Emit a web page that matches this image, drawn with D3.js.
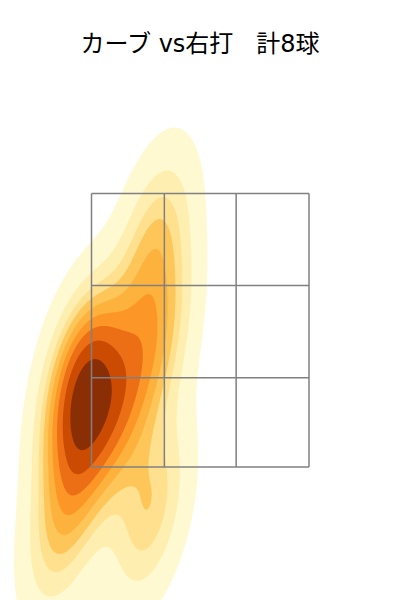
<!DOCTYPE html>
<html><head><meta charset="utf-8">
<script src="https://cdnjs.cloudflare.com/ajax/libs/d3/7.8.5/d3.min.js"></script>
<style>html,body{margin:0;padding:0;background:#fff}svg{display:block}</style>
</head><body><svg id="c" width="400" height="600"></svg>
<script>
const titleText = "カーブ vs右打   計8球";
const pitchX = [0.862,0.890,0.379,-0.186,-0.117,-0.007,-0.393,0.807];
const pitchZ = [2.468,1.382,0.570,0.910,0.976,0.526,-0.625,-0.483];
const gridX = [0,1.005,1.995,3];
const gridZ = [0,0.98,1.99,3];
const bandColors = ["#fff9d2","#feefb0","#fee08f","#fec559","#feb23e","#fc9727","#ec6f15","#cb4b02","#8a2f05"];
const levelCount = 10, lowestMass = 0.05;

const x = d3.scaleLinear().domain([0,3]).range([91.5,309]);
const y = d3.scaleLinear().domain([0,3]).range([467,193.5]);
const svg = d3.select("#c");

const n = pitchX.length, f2 = Math.pow(n,-1/3);
const mx = d3.mean(pitchX), mz = d3.mean(pitchZ);
let sxx=0,szz=0,sxz=0;
for(let i=0;i<n;i++){const a=pitchX[i]-mx,b=pitchZ[i]-mz;sxx+=a*a;szz+=b*b;sxz+=a*b;}
sxx=sxx/(n-1)*f2;szz=szz/(n-1)*f2;sxz=sxz/(n-1)*f2;
const det=sxx*szz-sxz*sxz;
const dens=(u,v)=>{let s=0;for(let i=0;i<n;i++){const a=u-pitchX[i],b=v-pitchZ[i];
  s+=Math.exp(-0.5*(szz*a*a-2*sxz*a*b+sxx*b*b)/det);}return s;};

const W=400,H=500,x0=-3,x1=5,z0=-5,z1=6;
const gx=i=>x0+(x1-x0)*i/(W-1), gz=j=>z0+(z1-z0)*j/(H-1);
const vals=new Float64Array(W*H);
for(let j=0;j<H;j++)for(let i=0;i<W;i++)vals[j*W+i]=dens(gx(i),gz(j));
const sorted=Array.from(vals).sort(d3.ascending);
const total=d3.sum(sorted);
const levels=[];let cum=0,k=0;
for(let l=0;l<levelCount-1;l++){
  const target=(lowestMass+(1-lowestMass)*l/(levelCount-1))*total;
  while(k<sorted.length-1&&cum<target){cum+=sorted[k++];}
  levels.push(sorted[k]);
}
const contours=d3.contours().size([W,H]).thresholds(levels)(vals);
const path=d3.geoPath(d3.geoTransform({point(a,b){
  this.stream.point(x(gx(a-0.5)),y(gz(b-0.5)));}}));
svg.append("g").selectAll("path").data(contours).join("path")
  .attr("d",path).attr("fill",(d,i)=>bandColors[i]).attr("stroke","none");

const g=svg.append("g").attr("stroke","#808080").attr("stroke-width",1.5).attr("fill","none");
gridX.forEach(v=>g.append("line").attr("x1",x(v)).attr("x2",x(v)).attr("y1",y(0)).attr("y2",y(3)));
gridZ.forEach(v=>g.append("line").attr("x1",x(0)).attr("x2",x(3)).attr("y1",y(v)).attr("y2",y(v)));

svg.append("text").attr("x",200).attr("y",52).attr("text-anchor","middle")
  .style("white-space","pre").attr("font-family","'DejaVu Sans','Noto Sans CJK JP'").attr("font-size",24).attr("fill","#000").text(titleText);
</script></body></html>
